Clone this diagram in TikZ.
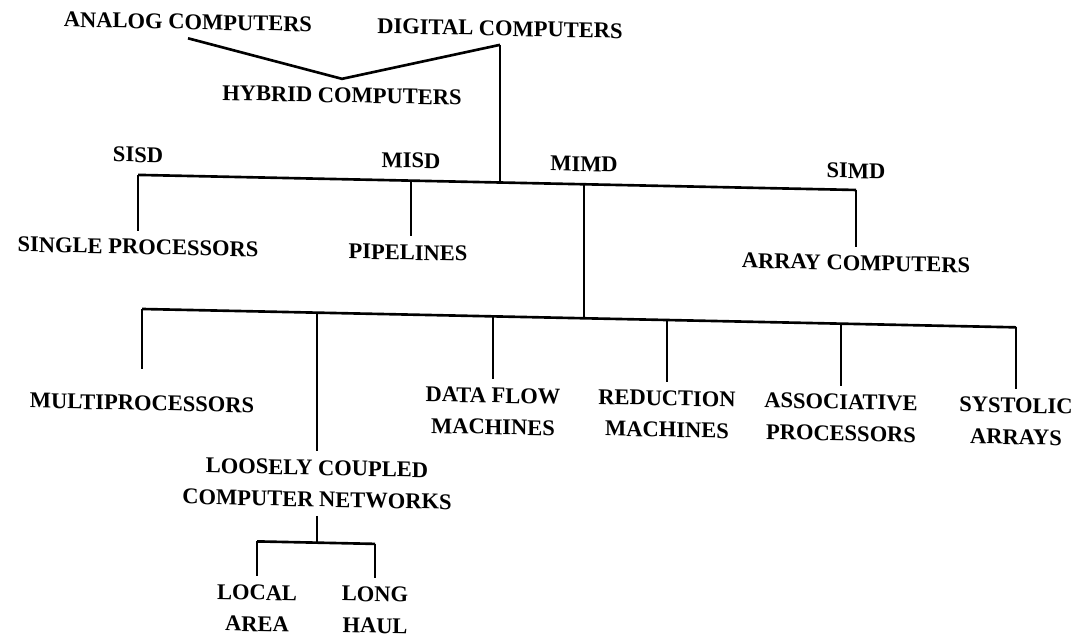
\documentclass[tikz,border=0pt]{standalone}
\usepackage{fontspec}
\setmainfont{Liberation Serif}
\usepackage{tikz}

\begin{document}
\begin{tikzpicture}[x=0.02cm, y=-0.02cm,
    lbl/.style={font=\bfseries\fontsize{12.8}{18}\selectfont, align=center,
        inner sep=0pt, outer sep=5pt, transform shape},
    bar/.style={line width=1.5pt},
    stem/.style={line width=1pt}]
    \useasboundingbox (0,0) rectangle (1084,636);

    \begin{scope}[yslant=-0.021]
    % Top level
    \node[lbl] (analog)  at (188,18) {ANALOG COMPUTERS};
    \node[lbl] (digital) at (500,18) {DIGITAL COMPUTERS};
    \node[lbl] (hybrid)  at (342,88) {HYBRID COMPUTERS};

    % Flynn classes
    \node[lbl] (sisd) at (138,152) {SISD};
    \node[lbl] (misd) at (411,152) {MISD};
    \node[lbl] (mimd) at (584,152) {MIMD};
    \node[lbl] (simd) at (856,153) {SIMD};

    \node[lbl] (single) at (138,244) {SINGLE PROCESSORS};
    \node[lbl] (pipe)   at (408,244) {PIPELINES};
    \node[lbl] (array)  at (856,245) {ARRAY COMPUTERS};

    % MIMD branch
    \node[lbl, outer sep=15pt] (multi) at (142,400) {MULTIPROCESSORS};
    \node[lbl] (loose)     at (317,477)  {LOOSELY COUPLED\\COMPUTER NETWORKS};
    \node[lbl] (dataflow)  at (493,401)  {DATA FLOW\\MACHINES};
    \node[lbl] (reduction) at (667,400)  {REDUCTION\\MACHINES};
    \node[lbl] (assoc)     at (841,400)  {ASSOCIATIVE\\PROCESSORS};
    \node[lbl] (systolic)  at (1016,400) {SYSTOLIC\\ARRAYS};

    \node[lbl] (local) at (257,603) {LOCAL\\AREA};
    \node[lbl] (long)  at (375,602) {LONG\\HAUL};

    % Junctions
    \coordinate (j1) at (138,172);
    \coordinate (j2) at (411,172);
    \coordinate (j3) at (500,172);
    \coordinate (j4) at (584,172);
    \coordinate (j5) at (856,172);
    \coordinate (k0) at (584,306);
    \coordinate (k1) at (142,306);
    \coordinate (k2) at (317,306);
    \coordinate (k3) at (493,306);
    \coordinate (k4) at (667,306);
    \coordinate (k5) at (841,306);
    \coordinate (k6) at (1016,306);
    \coordinate (m0) at (317,536);
    \coordinate (m1) at (257,536);
    \coordinate (m2) at (375,536);

    % Lines
    \draw[bar] (analog.south) -- (hybrid.north) -- (digital.south);
    \draw[stem] (digital.south) -- (j3);
    \draw[bar] (j1) -- (j5);
    \draw[stem] (j1) -- (single);
    \draw[stem] (j2) -- (j2 |- pipe.north);
    \draw[stem] (j5) -- (array);
    \draw[stem] (j4) -- (k0);

    \draw[bar] (k1) -- (k6);
    \draw[stem] (k1) -- (multi);
    \draw[stem] (k2) -- (loose);
    \draw[stem] (k3) -- (dataflow);
    \draw[stem] (k4) -- (reduction);
    \draw[stem] (k5) -- (assoc);
    \draw[stem] (k6) -- (systolic);

    \draw[stem] (loose) -- (m0);
    \draw[bar] (m1) -- (m2);
    \draw[stem] (m1) -- (local);
    \draw[stem] (m2) -- (long);
    \end{scope}
\end{tikzpicture}
\end{document}
